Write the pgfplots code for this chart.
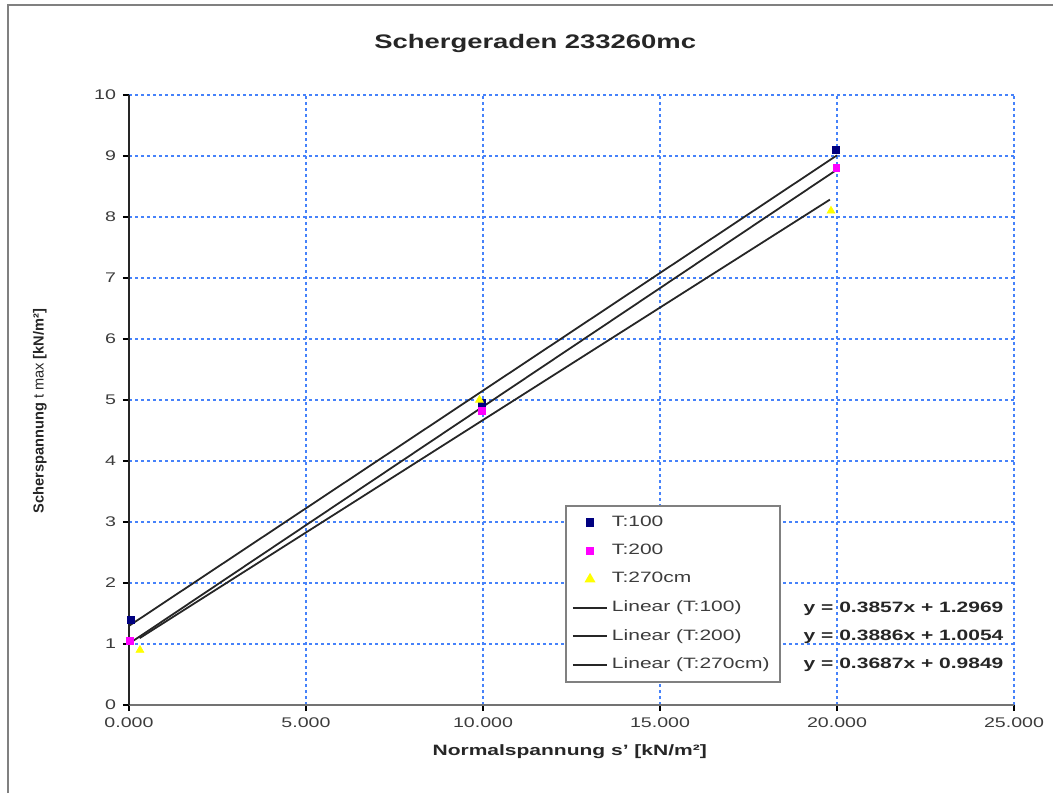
\documentclass[border=0pt]{standalone}
\usepackage{pgfplots}
\pgfplotsset{compat=1.18}
\usepackage{fontspec}
\setmainfont{Liberation Sans}[FakeStretch=1.4]
\newfontfamily\plainfont{Liberation Sans}
\definecolor{gridblue}{RGB}{70,130,250}
\definecolor{navyblue}{RGB}{0,0,128}
\definecolor{pmagenta}{RGB}{255,0,255}
\definecolor{pyellow}{RGB}{255,255,0}
\definecolor{txtgray}{RGB}{60,60,60}
\begin{document}
\begin{tikzpicture}
\path[use as bounding box] (0,0) rectangle (526.5pt,396.5pt);
\draw[gray, line width=1.2pt] (4pt,0) -- (4pt,394pt) -- (526.5pt,394pt);
\begin{axis}[
  at={(64.5pt,44pt)}, anchor=south west,
  scale only axis, width=442.5pt, height=305pt,
  xmin=0, xmax=25, ymin=0, ymax=10,
  clip=false,
  xtick={0,5,...,25}, ytick={0,1,...,10},
  axis x line=bottom, axis y line=left,
  axis line style={-, black!85, line width=0.8pt},
  x axis line style={black!55, line width=1pt},
  tick align=outside, major tick length=3pt,
  tick style={black, line width=0.6pt},
  grid=major,
  major grid style={gridblue, line width=0.7pt, dash pattern=on 1.5pt off 1.5pt},
  /pgf/number format/assume math mode=true,
  xticklabel style={/pgf/number format/.cd, fixed, fixed zerofill, precision=3, /tikz/.cd, font=\fontsize{7}{8}\selectfont, text=txtgray},
  yticklabel style={font=\fontsize{7}{8}\selectfont, text=txtgray},
  xlabel={\bfseries Normalspannung s' [kN/m²]},
  xlabel style={at={(axis description cs:0.498,-0.077)}, anchor=center, font=\fontsize{7.5}{9}\selectfont, text=black!85},
  ylabel={{\bfseries Scherspannung} t max {\bfseries [kN/m²]}},
  ylabel style={at={(axis description cs:-0.1006,0.482)}, rotate=0, anchor=center, font=\plainfont\fontsize{7.3}{9}\selectfont, text=black!85},
  title={\bfseries Schergeraden 233260mc},
  title style={at={(axis description cs:0.459,1.064)}, anchor=center, font=\fontsize{9.8}{12}\selectfont, text=black!85},
  legend style={at={(axis description cs:0.4927,0.328)}, anchor=north west,
    draw=gray, line width=1pt, fill=white, font=\fontsize{7.5}{9}\selectfont, text=txtgray,
    row sep=3.4pt, inner sep=3pt},
  legend cell align=left,
]
\addplot[only marks, mark=square*, mark size=1.7pt, navyblue] coordinates {(0.05,1.40) (9.97,4.95) (19.97,9.10)};
\addlegendentry{T:100}
\addplot[only marks, mark=square*, mark size=1.7pt, pmagenta] coordinates {(0.03,1.05) (9.97,4.82) (19.98,8.80)};
\addlegendentry{T:200}
\addplot[only marks, mark=triangle*, mark size=2.2pt, pyellow] coordinates {(0.31,0.90) (9.90,5.00) (19.83,8.10)};
\addlegendentry{T:270cm}
\addplot[black!85, line width=0.9pt, no marks] coordinates {(0,1.2969) (20,9.0109)};
\addlegendentry{Linear (T:100)}
\addplot[black!85, line width=0.9pt, no marks] coordinates {(0,1.0054) (20,8.7774)};
\addlegendentry{Linear (T:200)}
\addplot[black!85, line width=0.9pt, no marks] coordinates {(0.3,1.0955) (19.8,8.2852)};
\addlegendentry{Linear (T:270cm)}
\node[anchor=east, font=\bfseries\fontsize{7.5}{9}\selectfont, text=black!85] at (axis cs:24.9,1.58) {y = 0.3857x + 1.2969};
\node[anchor=east, font=\bfseries\fontsize{7.5}{9}\selectfont, text=black!85] at (axis cs:24.9,1.12) {y = 0.3886x + 1.0054};
\node[anchor=east, font=\bfseries\fontsize{7.5}{9}\selectfont, text=black!85] at (axis cs:24.9,0.66) {y = 0.3687x + 0.9849};
\end{axis}
\end{tikzpicture}
\end{document}
